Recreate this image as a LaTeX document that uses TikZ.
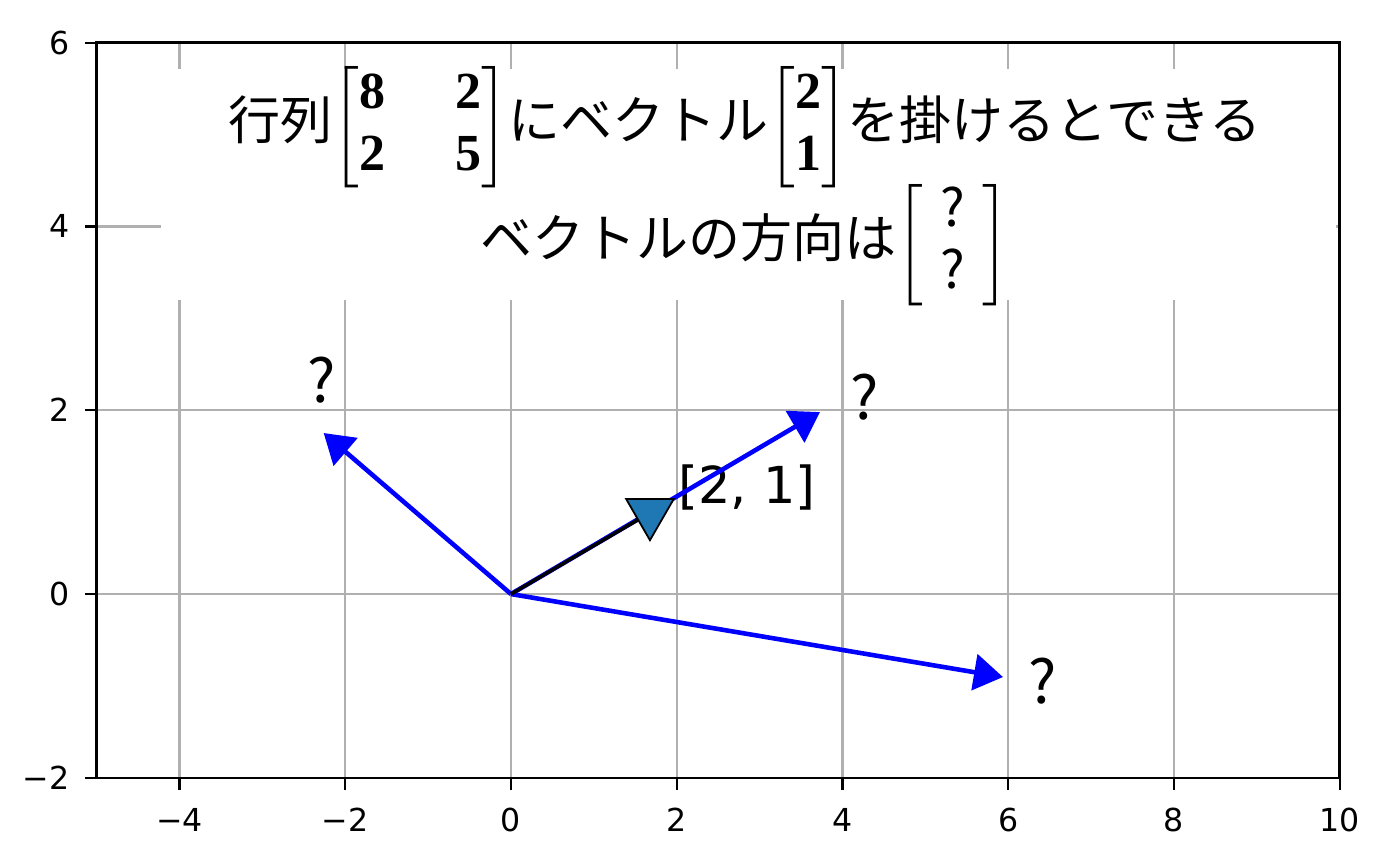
\documentclass[tikz,border=0pt]{standalone}
\usepackage{amsmath}
\usepackage{fontspec}
\setmainfont{DejaVu Sans}
\newfontfamily\jp{Noto Sans CJK JP}
\newfontfamily\numfont{Liberation Serif}
\usetikzlibrary{arrows.meta,shapes.geometric}

\definecolor{mplblue}{HTML}{1F77B4}
\definecolor{gridgray}{HTML}{B0B0B0}
\newcommand{\bnum}[1]{\mbox{\numfont\bfseries #1}}
\newcommand{\qm}{\mbox{\jp ?}}

\begin{document}
\begin{tikzpicture}[x=0.8287cm, y=0.919cm,
        ticklabel/.style={font=\fontsize{9}{10}\selectfont, inner sep=0pt},
        qlabel/.style={font=\jp\fontsize{17}{20}\selectfont, inner sep=0pt},
        titleline/.style={font=\jp\fontsize{14.8}{17.8}\selectfont, inner sep=0pt},
        vec/.style={blue, line width=1.3pt, -{Triangle[length=0.29cm, width=0.36cm]}},
        marker/.style={regular polygon, regular polygon sides=3, shape border rotate=180,
            fill=mplblue, draw=black, line width=0.5pt, minimum size=0.55cm, inner sep=0pt}]
    \useasboundingbox (-6.166,-2.938) rectangle (10.728,6.464);
    % grid
    \foreach \x in {-4,-2,...,8}
        \draw[gridgray, line width=0.6pt] (\x,-2) -- (\x,6);
    \foreach \y in {0,2,4}
        \draw[gridgray, line width=0.6pt] (-5,\y) -- (10,\y);
    % title box
    \fill[white] (-4.223,3.199) rectangle (9.955,5.713);
    \node[titleline] (line1) at (2.824,5.08) {行列$\arraycolsep=10pt\begin{bmatrix}\bnum{8} & \bnum{2}\\ \bnum{2} & \bnum{5}\end{bmatrix}$にベクトル$\begin{bmatrix}\bnum{2}\\ \bnum{1}\end{bmatrix}$を掛けるとできる};
    \node[titleline] (line2) at (2.824,3.80) {ベクトルの方向は$\left[\begin{array}{c}\qm\\ \qm\end{array}\right]$};
    % axes
    \draw[line width=0.7pt] (-5,-2) rectangle (10,6);
    \foreach \x/\lab in {-4/−4,-2/−2,0/0,2/2,4/4,6/6,8/8,10/10} {
        \draw[line width=0.6pt] (\x,-2) -- ++(0,-0.13);
        \node[ticklabel] (xl\x) at (\x,-2.459) {\lab};
    }
    \foreach \y/\lab in {-2/−2,0/0,2/2,4/4,6/6} {
        \draw[line width=0.6pt] (-5,\y) -- ++(-0.145,0);
        \node[ticklabel, anchor=east] (yl\y) at (-5.322,\y) {\lab};
    }
    % vectors
    \node[font=\fontsize{14.5}{17}\selectfont, inner sep=0pt, anchor=west] (lab) at (2.015,1.164) {[2, 1]};
    \coordinate (o) at (0,0);
    \coordinate (u1) at (-2.26,1.752);
    \coordinate (u2) at (3.729,1.980);
    \coordinate (u3) at (5.937,-0.903);
    \draw[vec] (o) -- (u1);
    \draw[vec] (o) -- (u2);
    \draw[vec] (o) -- (u3);
    \coordinate (m) at (1.677,0.885);
    \draw[line width=1pt] (o) -- (m);
    \node[marker] (tri) at (m) {};
    \node[qlabel] (q1) at (-2.281,2.329) {?};
    \node[qlabel] (q2) at (4.272,2.144) {?};
    \node[qlabel] (q3) at (6.41,-0.95) {?};
\end{tikzpicture}
\end{document}
